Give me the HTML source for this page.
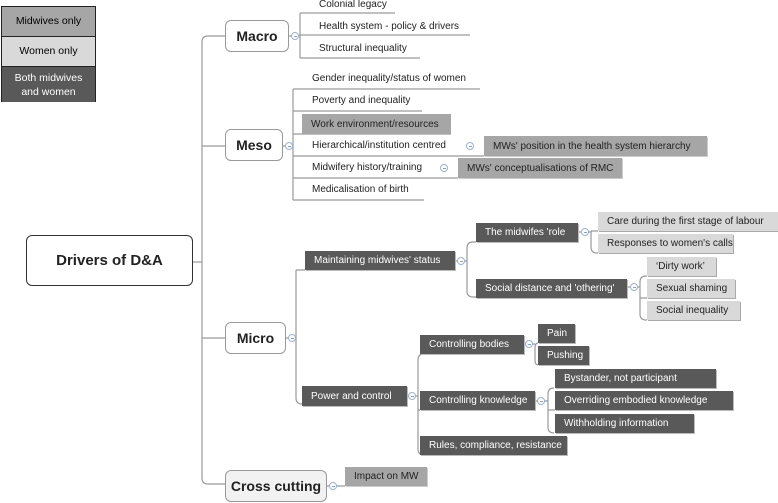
<!DOCTYPE html>
<html><head><meta charset="utf-8"><style>
body{margin:0;width:778px;height:503px;background:#fff;position:relative;overflow:hidden;font-family:"Liberation Sans",sans-serif;}
.a{position:absolute;box-sizing:border-box;font-size:10px;color:#222;white-space:nowrap;display:flex;align-items:center;padding-left:9px;}
.d{background:#595959;color:#fff;box-shadow:1px 1px 0 #bbb;}
.m{background:#a6a6a6;box-shadow:1px 1px 0 #ccc;}
.w{background:#d9d9d9;box-shadow:1px 1px 0 #aaa;}
.n{border:1px solid #999;border-radius:6px;background:#fff;justify-content:center;padding:0;font-weight:bold;font-size:14px;}
.c{position:absolute;width:8px;height:8px;border:1px solid #9db0d8;border-radius:50%;box-sizing:border-box;background:#fff;}
.c:after{content:"";position:absolute;left:1.5px;top:2.8px;width:3px;height:1px;background:#8aa0cc;}
svg{position:absolute;left:0;top:0}
</style></head><body>
<svg width="778" height="503" fill="none" stroke="#9a9a9a" stroke-width="1.2">
<path d="M193 262H202"/>
<path d="M225 36H208Q202 36 202 42V478Q202 484 208 484H225"/>
<path d="M202 146H225M202 338H225"/>
<path d="M289 36H300M300 13V58M300 13H395M300 35H470M300 58H420"/>
<path d="M283 146H293M293 89V200M293 89H480M293 111H422M293 134H451M293 156H484M293 178H458M293 200H424"/>
<path d="M286 338H296M296 270V398Q296 404 302 404M296 270H305"/>
<path d="M455 261H467M467 248Q467 242 473 242H476M467 248V291Q467 297 473 297H476"/>
<path d="M578 232H591M598 231H591M591 231V247Q591 253 597 253H598"/>
<path d="M627 287H640M640 282Q640 276 646 276H647M640 282V314Q640 320 646 320H647M640 298H647"/>
<path d="M407 396H418M418 360Q418 354 424 354H420M418 360V449Q418 455 424 455M418 410H420"/>
<path d="M524 344H535M535 348Q535 343 538 343M535 348V360Q535 365 538 365"/>
<path d="M535 401H548M548 394Q548 388 554 388M548 394V427Q548 433 554 433M548 410H555"/>
<path d="M327 486H345"/>
</svg>
<div style="position:absolute;left:1px;top:6px;width:95px;height:96px;border:1px solid #222;box-sizing:border-box;font-size:10.5px;text-align:center">
<div style="background:#a6a6a6;height:29px;line-height:29px;border-bottom:1px solid #222">Midwives only</div>
<div style="background:#d9d9d9;height:29px;line-height:29px;border-bottom:1px solid #222">Women only</div>
<div style="background:#595959;color:#fff;height:35px;padding-top:4px;box-sizing:border-box;line-height:14px">Both midwives<br>and women</div>
</div>
<div class="a n" style="left:26px;top:235px;width:167px;height:51px;border-color:#333;font-size:15px">Drivers of D&amp;A</div>
<div class="a n" style="left:225px;top:20px;width:64px;height:32px">Macro</div>
<div class="a n" style="left:225px;top:129px;width:58px;height:32px">Meso</div>
<div class="a n" style="left:225px;top:322px;width:61px;height:32px">Micro</div>
<div class="a n" style="left:225px;top:470px;width:102px;height:32px;background:#f2f2f2">Cross cutting</div>
<div class="c" style="left:291px;top:32px"></div>
<div class="c" style="left:285px;top:142px"></div>
<div class="c" style="left:288px;top:334px"></div>
<div class="c" style="left:329px;top:482px"></div>
<div class="a" style="left:310px;top:-5px;height:18px">Colonial legacy</div>
<div class="a" style="left:310px;top:17px;height:18px">Health system - policy &amp; drivers</div>
<div class="a" style="left:310px;top:39px;height:18px">Structural inequality</div>
<div class="a" style="left:303px;top:69px;height:19px">Gender inequality/status of women</div>
<div class="a" style="left:303px;top:91px;height:19px">Poverty and inequality</div>
<div class="a m" style="left:302px;top:114px;width:149px;height:20px;box-shadow:none">Work environment/resources</div>
<div class="a" style="left:303px;top:136px;height:19px">Hierarchical/institution centred</div>
<div class="c" style="left:466px;top:142px"></div>
<div class="a m" style="left:484px;top:136px;width:223px;height:20px">MWs' position in the health system hierarchy</div>
<div class="a" style="left:303px;top:158px;height:19px">Midwifery history/training</div>
<div class="c" style="left:440px;top:164px"></div>
<div class="a m" style="left:458px;top:158px;width:164px;height:20px">MWs' conceptualisations of RMC</div>
<div class="a" style="left:303px;top:180px;height:19px">Medicalisation of birth</div>
<div class="a d" style="left:305px;top:251px;width:150px;height:19px">Maintaining midwives' status</div>
<div class="c" style="left:457px;top:257px"></div>
<div class="a d" style="left:476px;top:223px;width:102px;height:19px">The midwifes 'role</div>
<div class="c" style="left:581px;top:228px"></div>
<div class="a w" style="left:598px;top:212px;width:180px;height:19px">Care during the first stage of labour</div>
<div class="a w" style="left:598px;top:234px;width:135px;height:19px">Responses to women's calls</div>
<div class="a d" style="left:476px;top:279px;width:151px;height:19px">Social distance and 'othering'</div>
<div class="c" style="left:630px;top:283px"></div>
<div class="a w" style="left:647px;top:257px;width:69px;height:19px">‘Dirty work’</div>
<div class="a w" style="left:647px;top:279px;width:88px;height:19px">Sexual shaming</div>
<div class="a w" style="left:647px;top:301px;width:93px;height:19px">Social inequality</div>
<div class="a d" style="left:302px;top:386px;width:105px;height:20px">Power and control</div>
<div class="c" style="left:408px;top:392px"></div>
<div class="a d" style="left:420px;top:335px;width:104px;height:19px">Controlling bodies</div>
<div class="c" style="left:525px;top:340px"></div>
<div class="a d" style="left:538px;top:324px;width:37px;height:19px">Pain</div>
<div class="a d" style="left:538px;top:346px;width:51px;height:19px">Pushing</div>
<div class="a d" style="left:420px;top:391px;width:115px;height:19px">Controlling knowledge</div>
<div class="c" style="left:537px;top:397px"></div>
<div class="a d" style="left:555px;top:369px;width:161px;height:19px">Bystander, not participant</div>
<div class="a d" style="left:555px;top:391px;width:178px;height:19px">Overriding embodied knowledge</div>
<div class="a d" style="left:555px;top:414px;width:139px;height:19px">Withholding information</div>
<div class="a d" style="left:420px;top:436px;width:147px;height:19px">Rules, compliance, resistance</div>
<div class="a m" style="left:345px;top:467px;width:82px;height:19px">Impact on MW</div>
</body></html>
